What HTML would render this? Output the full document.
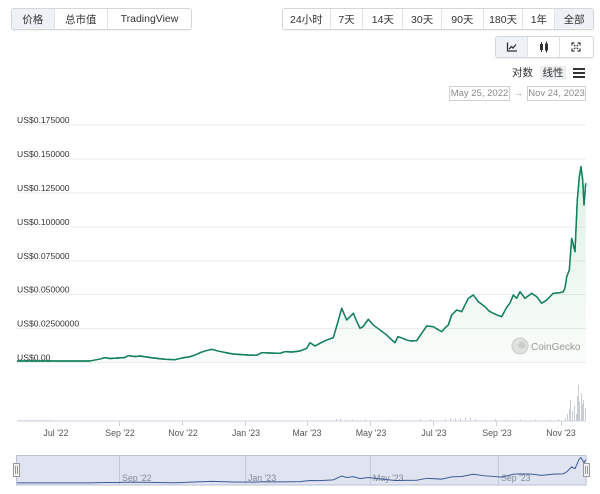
<!DOCTYPE html>
<html>
<head>
<meta charset="utf-8">
<style>
  html,body{margin:0;padding:0;background:#fff;}
  body{width:600px;height:494px;position:relative;overflow:hidden;font-family:"Liberation Sans","Noto Sans CJK SC",sans-serif;color:#333;}
  .grp{position:absolute;border:1px solid #d3d6db;border-radius:3px;box-sizing:border-box;display:flex;box-shadow:0 1px 1px rgba(0,0,0,0.06);background:#fff;overflow:hidden;}
  .grp div{box-sizing:border-box;border-right:1px solid #dfe2e6;display:flex;align-items:center;justify-content:center;font-size:10.5px;color:#333;height:100%;}
  .grp div:last-child{border-right:none;}
  .act{background:#eef1f5;}
  .abs{position:absolute;}
  .datebox{position:absolute;border:1px solid #cfcfcf;box-sizing:border-box;font-size:9.5px;color:#8a8a8a;display:flex;align-items:center;justify-content:center;}
</style>
</head>
<body>
<!-- left tab group -->
<div class="grp" style="left:11px;top:8px;width:181px;height:22px;">
  <div class="act" style="width:43px;">价格</div>
  <div style="width:54px;">总市值</div>
  <div style="width:84px;">TradingView</div>
</div>
<!-- range group -->
<div class="grp" style="left:282px;top:8px;width:312px;height:22px;">
  <div style="width:48px;">24小时</div>
  <div style="width:33px;">7天</div>
  <div style="width:40px;">14天</div>
  <div style="width:39px;">30天</div>
  <div style="width:42px;">90天</div>
  <div style="width:40px;">180天</div>
  <div style="width:32px;">1年</div>
  <div class="act" style="width:38px;">全部</div>
</div>
<!-- icon group -->
<div class="grp" style="left:495px;top:36px;width:99px;height:22px;">
  <div class="act" style="width:33px;">
    <svg width="12" height="10" viewBox="0 0 12 10"><path d="M1.5 0.5 V9 H11" fill="none" stroke="#333" stroke-width="1.3"/><path d="M3 7 L5.5 4.5 L7 6 L10 2.5" fill="none" stroke="#333" stroke-width="1.3"/></svg>
  </div>
  <div style="width:32px;">
    <svg width="12" height="12" viewBox="0 0 12 12"><rect x="2" y="3" width="3" height="6" fill="#333"/><line x1="3.5" y1="1" x2="3.5" y2="11" stroke="#333"/><rect x="7" y="2.5" width="3" height="7" fill="#333"/><line x1="8.5" y1="0.5" x2="8.5" y2="11.5" stroke="#333"/></svg>
  </div>
  <div style="width:34px;">
    <svg width="10" height="10" viewBox="0 0 10 10" fill="none" stroke="#333" stroke-width="1.2"><path d="M1 3.5V1h2.5M6.5 1H9v2.5M9 6.5V9H6.5M3.5 9H1V6.5"/><path d="M3 3l1.3 1.3M7 3L5.7 4.3M7 7L5.7 5.7M3 7l1.3-1.3"/></svg>
  </div>
</div>
<!-- log / linear -->
<div class="abs" style="left:512px;top:66px;font-size:10.5px;line-height:14px;">对数</div>
<div class="abs" style="left:540px;top:66px;width:26px;height:14px;background:#eef0f2;font-size:10.5px;line-height:14px;text-align:center;">线性</div>
<div class="abs" style="left:573px;top:68px;width:12px;height:2px;background:#333;"></div>
<div class="abs" style="left:573px;top:72px;width:12px;height:2px;background:#333;"></div>
<div class="abs" style="left:573px;top:76px;width:12px;height:2px;background:#333;"></div>
<!-- dates -->
<div class="datebox" style="left:449px;top:86px;width:61px;height:15px;">May 25, 2022</div>
<div class="abs" style="left:514px;top:86px;font-size:9px;color:#999;line-height:15px;">→</div>
<div class="datebox" style="left:527px;top:86px;width:59px;height:15px;">Nov 24, 2023</div>

<svg class="abs" style="left:0;top:0;" width="600" height="494" viewBox="0 0 600 494">
  <defs>
    <linearGradient id="fg" x1="0" y1="0" x2="0" y2="1">
      <stop offset="0" stop-color="#3aa85a" stop-opacity="0.16"/>
      <stop offset="1" stop-color="#3aa85a" stop-opacity="0.03"/>
    </linearGradient>
  </defs>
  <!-- grid -->
  <g stroke="#ececec" stroke-width="1">
    <line x1="17" y1="125" x2="586" y2="125"/>
    <line x1="17" y1="159" x2="586" y2="159"/>
    <line x1="17" y1="193" x2="586" y2="193"/>
    <line x1="17" y1="227" x2="586" y2="227"/>
    <line x1="17" y1="261" x2="586" y2="261"/>
    <line x1="17" y1="294.5" x2="586" y2="294.5"/>
    <line x1="17" y1="328.5" x2="586" y2="328.5"/>
    <line x1="17" y1="362.5" x2="586" y2="362.5"/>
  </g>
  <g font-family="Liberation Sans, sans-serif" font-size="8.6" fill="#333">
    <text x="17" y="123">US$0.175000</text>
    <text x="17" y="157">US$0.150000</text>
    <text x="17" y="191">US$0.125000</text>
    <text x="17" y="225">US$0.100000</text>
    <text x="17" y="259">US$0.075000</text>
    <text x="17" y="292.5">US$0.050000</text>
    <text x="17" y="326.5">US$0.02500000</text>
    <text x="17" y="360.5">US$0.00</text>
  </g>
  <!-- watermark -->
  <circle cx="520" cy="346" r="8" fill="#e4e4e4" stroke="#d0d0d0"/>
  <circle cx="522" cy="345" r="3.5" fill="#cfcfcf"/>
  <text x="531" y="350" font-family="Liberation Sans, sans-serif" font-size="10" fill="#9a9a9a">CoinGecko</text>

  <!-- price fill & line -->
  <path id="pl" d="M17,361 L90,361 L100,359 L105,357.7 L110,358.5 L118,358 L125,357.5 L128,355.7 L135,356.5 L140,356 L150,357.5 L158,358.5 L165,359.3 L175,359.7 L182,358 L190,356.7 L195,355 L200,352.7 L205,351 L211.7,349.3 L218,351 L225,352.5 L233,354 L240,354.5 L248,355 L256.7,355.3 L261.7,352.7 L270,353 L280,353.3 L285,351.7 L292,352 L300,351 L306.7,348.3 L310,342.7 L315,346 L320,343.3 L326.7,340 L333.3,337.7 L337,325 L341.7,308.3 L346.7,320 L350,316.7 L353.3,313.3 L357,322 L360,328.3 L363,326.7 L368.3,319.3 L373.3,325 L380,330 L386.7,335 L390,338.3 L395,342.7 L398,336.7 L402,338 L406.7,340 L411,341 L416.7,340.7 L421.7,333.3 L426.7,326 L433.3,326.7 L437,329 L441.7,331.7 L445,328 L448.3,325 L451.7,315 L456.7,310 L461.7,311.7 L465,305 L468.3,298.3 L473.3,295 L478.3,301.7 L485,306.7 L489,311 L493.3,313.3 L497,315 L501.7,316.7 L506.7,307.3 L510,303 L513.3,295 L516.7,298.3 L520,291.7 L525,298.3 L531.7,293.3 L536.7,296.7 L541.7,303.3 L546.7,300 L553.3,293.3 L560,292.7 L563.3,291.7 L565,288 L566.7,276.7 L569.3,270 L571.7,238.3 L575,251.7 L577.3,200 L579.3,176.7 L581,166.7 L582.7,180 L584,205 L585.7,183.3" fill="none" stroke="#13805d" stroke-width="1.4" stroke-linejoin="round"/>
  <path d="M17,361 L90,361 L100,359 L105,357.7 L110,358.5 L118,358 L125,357.5 L128,355.7 L135,356.5 L140,356 L150,357.5 L158,358.5 L165,359.3 L175,359.7 L182,358 L190,356.7 L195,355 L200,352.7 L205,351 L211.7,349.3 L218,351 L225,352.5 L233,354 L240,354.5 L248,355 L256.7,355.3 L261.7,352.7 L270,353 L280,353.3 L285,351.7 L292,352 L300,351 L306.7,348.3 L310,342.7 L315,346 L320,343.3 L326.7,340 L333.3,337.7 L337,325 L341.7,308.3 L346.7,320 L350,316.7 L353.3,313.3 L357,322 L360,328.3 L363,326.7 L368.3,319.3 L373.3,325 L380,330 L386.7,335 L390,338.3 L395,342.7 L398,336.7 L402,338 L406.7,340 L411,341 L416.7,340.7 L421.7,333.3 L426.7,326 L433.3,326.7 L437,329 L441.7,331.7 L445,328 L448.3,325 L451.7,315 L456.7,310 L461.7,311.7 L465,305 L468.3,298.3 L473.3,295 L478.3,301.7 L485,306.7 L489,311 L493.3,313.3 L497,315 L501.7,316.7 L506.7,307.3 L510,303 L513.3,295 L516.7,298.3 L520,291.7 L525,298.3 L531.7,293.3 L536.7,296.7 L541.7,303.3 L546.7,300 L553.3,293.3 L560,292.7 L563.3,291.7 L565,288 L566.7,276.7 L569.3,270 L571.7,238.3 L575,251.7 L577.3,200 L579.3,176.7 L581,166.7 L582.7,180 L584,205 L585.7,183.3 L585.7,362 L17,362 Z" fill="url(#fg)" stroke="none"/>
  <use href="#pl"/>

  <!-- volume -->
  <g fill="#c9ccd2">
    <rect x="336" y="419" width="1" height="2"/><rect x="340" y="418.5" width="1" height="2.5"/><rect x="345" y="419.5" width="1" height="1.5"/>
    <rect x="352" y="419.5" width="1" height="1.5"/><rect x="365" y="419.5" width="1" height="1.5"/><rect x="390" y="419.5" width="1" height="1.5"/>
    <rect x="420" y="419" width="1" height="2"/><rect x="430" y="419" width="1" height="2"/><rect x="445" y="418.5" width="1" height="2.5"/>
    <rect x="450" y="418" width="1" height="3"/><rect x="455" y="418.5" width="1" height="2.5"/><rect x="460" y="418" width="1" height="3"/>
    <rect x="465" y="417.5" width="1" height="3.5"/><rect x="470" y="418" width="1" height="3"/><rect x="475" y="419" width="1" height="2"/>
    <rect x="495" y="419" width="1" height="2"/><rect x="505" y="419.5" width="1" height="1.5"/><rect x="520" y="419.5" width="1" height="1.5"/>
    <rect x="535" y="419.5" width="1" height="1.5"/><rect x="550" y="419.5" width="1" height="1.5"/><rect x="558" y="419" width="1" height="2"/>
    <rect x="565" y="418" width="1" height="3"/><rect x="567" y="414" width="1" height="7"/><rect x="569" y="409" width="1" height="12"/>
    <rect x="570" y="400" width="1" height="21"/><rect x="572" y="411" width="1" height="10"/><rect x="574" y="406" width="1" height="15"/>
    <rect x="576" y="414" width="1" height="7"/><rect x="577" y="396" width="1" height="25"/><rect x="578" y="385" width="1" height="36"/>
    <rect x="579" y="402" width="1" height="19"/><rect x="581" y="393" width="1" height="28"/><rect x="582" y="404" width="1" height="17"/>
    <rect x="583" y="400" width="1" height="21"/><rect x="585" y="408" width="1" height="13"/>
  </g>
  <rect x="17" y="420" width="35" height="1" fill="#e8e8e8"/>
  <line x1="17" y1="421" x2="586" y2="421" stroke="#ccd3df" stroke-width="1"/>
  <g stroke="#ccd3df" stroke-width="1">
    <line x1="119.5" y1="421" x2="119.5" y2="426"/>
    <line x1="182.5" y1="421" x2="182.5" y2="426"/>
    <line x1="245.5" y1="421" x2="245.5" y2="426"/>
    <line x1="307.5" y1="421" x2="307.5" y2="426"/>
    <line x1="370.5" y1="421" x2="370.5" y2="426"/>
    <line x1="433.5" y1="421" x2="433.5" y2="426"/>
    <line x1="496.5" y1="421" x2="496.5" y2="426"/>
    <line x1="561.5" y1="421" x2="561.5" y2="426"/>
  </g>
  <g font-family="Liberation Sans, sans-serif" font-size="8.8" fill="#555" text-anchor="middle">
    <text x="56" y="436">Jul '22</text>
    <text x="120" y="436">Sep '22</text>
    <text x="183" y="436">Nov '22</text>
    <text x="246" y="436">Jan '23</text>
    <text x="307" y="436">Mar '23</text>
    <text x="371" y="436">May '23</text>
    <text x="434" y="436">Jul '23</text>
    <text x="497" y="436">Sep '23</text>
    <text x="561" y="436">Nov '23</text>
  </g>

  <!-- navigator -->
  <rect x="16.5" y="455.5" width="569.5" height="29.5" fill="#dfe4f0" stroke="#b9c2d6" stroke-width="1"/>
  <g stroke="#c3cadb" stroke-width="1">
    <line x1="119.5" y1="456" x2="119.5" y2="485"/>
    <line x1="245.5" y1="456" x2="245.5" y2="485"/>
    <line x1="370.5" y1="456" x2="370.5" y2="485"/>
    <line x1="498.5" y1="456" x2="498.5" y2="485"/>
  </g>
  <g font-family="Liberation Sans, sans-serif" font-size="8.8" fill="#808898">
    <text x="122" y="481">Sep '22</text>
    <text x="248" y="481">Jan '23</text>
    <text x="373" y="481">May '23</text>
    <text x="501" y="481">Sep '23</text>
  </g>
  <g transform="translate(0,483) scale(1,0.13) translate(0,-362)">
    <path d="M17,361 L90,361 L100,359 L105,357.7 L118,358 L128,355.7 L140,356 L165,359.3 L175,359.7 L182,358 L200,352.7 L211.7,349.3 L233,354 L256.7,355.3 L261.7,352.7 L280,353.3 L300,351 L310,342.7 L320,343.3 L333.3,337.7 L341.7,308.3 L346.7,320 L353.3,313.3 L360,328.3 L368.3,319.3 L380,330 L395,342.7 L416.7,340.7 L426.7,326 L441.7,331.7 L451.7,315 L461.7,311.7 L473.3,295 L485,306.7 L501.7,316.7 L513.3,295 L520,291.7 L531.7,293.3 L541.7,303.3 L553.3,293.3 L563.3,291.7 L566.7,276.7 L571.7,238.3 L575,251.7 L579.3,176.7 L581,166.7 L584,205 L585.7,183.3" fill="none" stroke="#3d5a96" stroke-width="1" vector-effect="non-scaling-stroke"/>
  </g>
  <rect x="13.5" y="463.5" width="6" height="13" fill="#f2f2f2" stroke="#999" stroke-width="1"/>
  <line x1="15.5" y1="466" x2="15.5" y2="474" stroke="#999"/><line x1="17.5" y1="466" x2="17.5" y2="474" stroke="#999"/>
  <rect x="583.5" y="463.5" width="6" height="13" fill="#f2f2f2" stroke="#999" stroke-width="1"/>
  <line x1="585.5" y1="466" x2="585.5" y2="474" stroke="#999"/><line x1="587.5" y1="466" x2="587.5" y2="474" stroke="#999"/>
</svg>
</body>
</html>
